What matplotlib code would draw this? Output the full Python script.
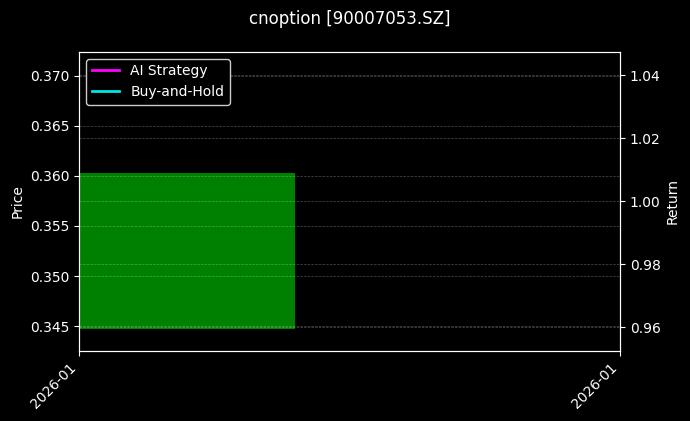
"""
Single-bar price chart with strategy return overlay (dark theme)
"""

import matplotlib
matplotlib.use('Agg')
import matplotlib.pyplot as plt
import matplotlib.dates as mdates
import pandas as pd

# data
dates = pd.to_datetime(['2026-01-05'])
open_prices = [0.3447]
close_prices = [0.3603]
ai_strategy = [1.0]
buy_and_hold = [1.0]

symbol = 'cnoption'
code = '90007053.SZ'


def main():
    plt.style.use('dark_background')
    fig, ax = plt.subplots(figsize=(6.9, 4.21), dpi=100)
    fig.subplots_adjust(left=0.1145, right=0.8985, top=0.877, bottom=0.166)

    # candle body
    x = mdates.date2num(dates)
    heights = [c - o for o, c in zip(open_prices, close_prices)]
    colors = ['green' if c >= o else 'red' for o, c in zip(open_prices, close_prices)]
    ax.bar(x, heights, bottom=open_prices, width=0.6, color=colors, align='center')

    ax.set_xlim(x[0] - 0.3, x[0] + 1.2)
    ax.set_ylim(0.3425, 0.3724)
    ax.set_ylabel('Price')
    ax.grid(True, linestyle='--', linewidth=0.5, alpha=0.3)

    ax.set_xticks([x[0] - 0.3, x[0] + 1.2])
    ax.xaxis.set_major_formatter(mdates.DateFormatter('%Y-%m'))
    plt.setp(ax.get_xticklabels(), rotation=45, ha='right')

    # returns on the right axis
    ax2 = ax.twinx()
    ax2.plot(x, ai_strategy, color='#ff00ff', linewidth=2, label='AI Strategy')
    ax2.plot(x, buy_and_hold, color='#00e5e5', linewidth=2, label='Buy-and-Hold')
    ax2.set_ylim(0.9525, 1.0475)
    ax2.set_ylabel('Return')
    ax2.grid(True, linestyle='--', linewidth=0.5, alpha=0.3)

    ax2.legend(loc='upper left', framealpha=1, facecolor='black', edgecolor='#cccccc')

    ax.set_title(f'{symbol} [{code}]', fontsize=12, pad=20)

    fig.savefig('out.png', dpi=100)


if __name__ == '__main__':
    main()
